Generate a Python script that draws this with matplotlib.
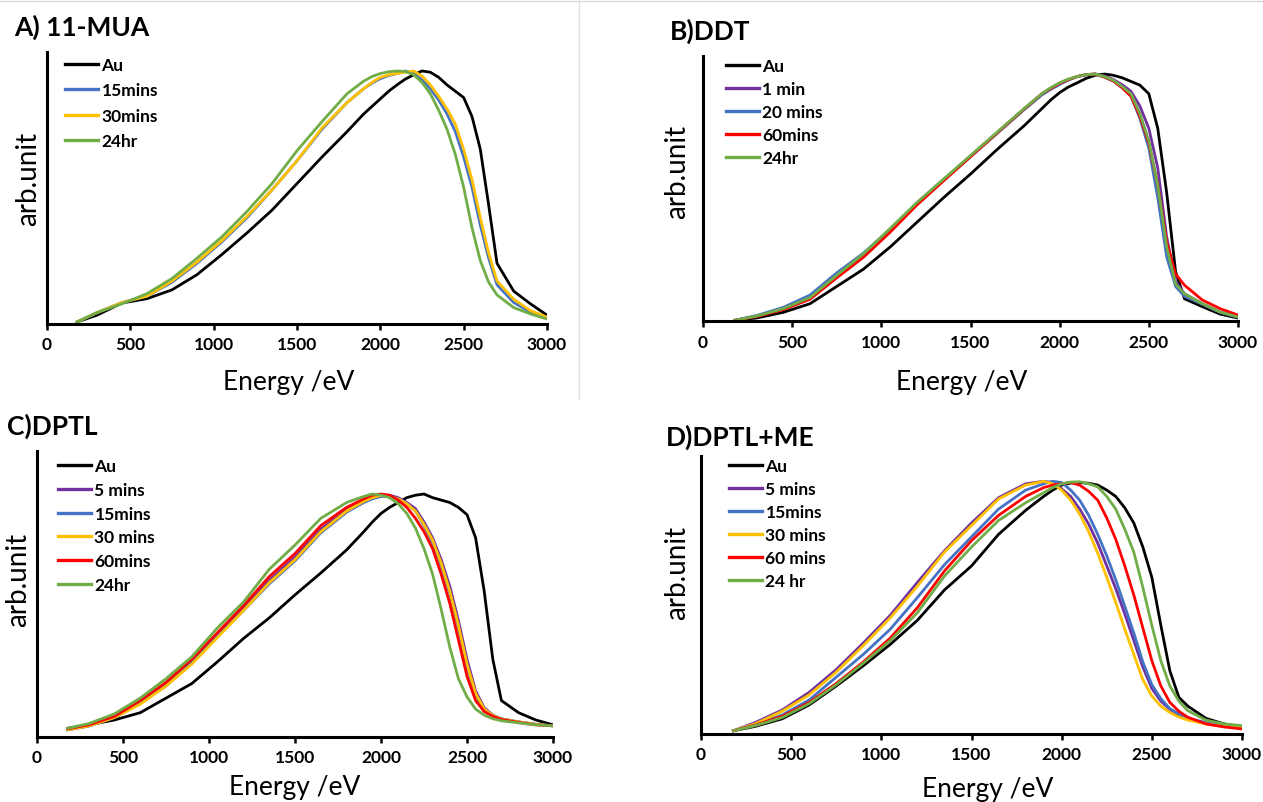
import matplotlib
matplotlib.use("Agg")
import matplotlib.pyplot as plt

# energy grid (eV) shared by every curve
ENERGY = [180, 300, 450, 600, 750, 900, 1050, 1200, 1350, 1500, 1650, 1800, 1900, 1950, 2000, 2050,
          2100, 2150, 2200, 2250, 2300, 2350, 2400, 2450, 2500, 2550, 2600, 2650, 2700, 2800, 2900, 3000]

# A) 11-MUA
A_AU = [0.008, 0.035, 0.083, 0.10, 0.135, 0.195, 0.275, 0.36, 0.45, 0.555, 0.66, 0.76, 0.83, 0.86, 0.89, 0.92,
        0.945, 0.968, 0.985, 1.0, 0.995, 0.975, 0.945, 0.92, 0.895, 0.82, 0.69, 0.47, 0.24, 0.13, 0.08, 0.035]
A_15 = [0.008, 0.045, 0.085, 0.11, 0.165, 0.24, 0.325, 0.42, 0.53, 0.645, 0.77, 0.875, 0.93, 0.952, 0.97, 0.982,
        0.99, 1.0, 0.99, 0.965, 0.93, 0.885, 0.83, 0.76, 0.66, 0.54, 0.39, 0.26, 0.155, 0.085, 0.048, 0.025]
A_30 = [0.008, 0.045, 0.085, 0.11, 0.17, 0.245, 0.33, 0.425, 0.53, 0.645, 0.775, 0.875, 0.93, 0.955, 0.975, 0.985,
        0.99, 0.995, 1.0, 0.98, 0.945, 0.90, 0.85, 0.79, 0.69, 0.57, 0.42, 0.28, 0.17, 0.098, 0.053, 0.027]
A_24 = [0.008, 0.045, 0.08, 0.12, 0.18, 0.26, 0.345, 0.445, 0.555, 0.685, 0.80, 0.91, 0.96, 0.978, 0.99, 0.997,
        1.0, 0.998, 0.985, 0.955, 0.91, 0.845, 0.77, 0.67, 0.54, 0.38, 0.25, 0.165, 0.115, 0.065, 0.04, 0.02]

# B) DDT
B_AU = [0.003, 0.012, 0.035, 0.07, 0.14, 0.21, 0.30, 0.40, 0.50, 0.595, 0.695, 0.79, 0.86, 0.895, 0.925, 0.948,
        0.965, 0.983, 0.995, 1.0, 0.995, 0.985, 0.97, 0.955, 0.92, 0.78, 0.52, 0.20, 0.09, 0.058, 0.028, 0.012]
B_1 = [0.003, 0.02, 0.05, 0.095, 0.183, 0.27, 0.372, 0.478, 0.573, 0.668, 0.763, 0.858, 0.918, 0.94, 0.96, 0.978,
       0.99, 0.997, 1.0, 0.992, 0.978, 0.957, 0.93, 0.87, 0.78, 0.62, 0.34, 0.16, 0.11, 0.07, 0.036, 0.016]
B_20 = [0.003, 0.022, 0.055, 0.105, 0.195, 0.275, 0.372, 0.478, 0.572, 0.665, 0.76, 0.855, 0.915, 0.938, 0.958, 0.976,
        0.99, 0.997, 1.0, 0.988, 0.972, 0.945, 0.91, 0.82, 0.70, 0.50, 0.26, 0.14, 0.10, 0.068, 0.035, 0.016]
B_60 = [0.003, 0.018, 0.046, 0.088, 0.175, 0.258, 0.36, 0.47, 0.568, 0.665, 0.762, 0.858, 0.92, 0.942, 0.962, 0.978,
        0.99, 0.998, 1.0, 0.988, 0.972, 0.945, 0.91, 0.83, 0.72, 0.55, 0.32, 0.19, 0.145, 0.085, 0.05, 0.024]
B_24 = [0.003, 0.02, 0.05, 0.095, 0.185, 0.272, 0.375, 0.48, 0.575, 0.67, 0.765, 0.86, 0.92, 0.945, 0.965, 0.98,
        0.99, 0.998, 1.0, 0.99, 0.975, 0.95, 0.92, 0.84, 0.73, 0.55, 0.30, 0.15, 0.11, 0.07, 0.036, 0.016]

# C) DPTL
C_AU = [0.036, 0.05, 0.07, 0.10, 0.16, 0.22, 0.31, 0.405, 0.49, 0.585, 0.675, 0.77, 0.845, 0.885, 0.92, 0.945,
        0.965, 0.985, 0.995, 1.0, 0.985, 0.975, 0.965, 0.945, 0.915, 0.82, 0.60, 0.32, 0.15, 0.10, 0.07, 0.05]
C_5 = [0.03, 0.045, 0.08, 0.14, 0.215, 0.31, 0.42, 0.53, 0.645, 0.74, 0.855, 0.935, 0.975, 0.99, 0.995, 0.995,
       0.985, 0.965, 0.94, 0.885, 0.82, 0.73, 0.62, 0.48, 0.32, 0.19, 0.12, 0.09, 0.075, 0.062, 0.052, 0.046]
C_15 = [0.03, 0.045, 0.08, 0.14, 0.21, 0.305, 0.415, 0.52, 0.63, 0.725, 0.84, 0.925, 0.965, 0.98, 0.99, 0.99,
        0.98, 0.96, 0.93, 0.87, 0.80, 0.705, 0.59, 0.45, 0.29, 0.175, 0.11, 0.088, 0.074, 0.062, 0.052, 0.046]
C_30 = [0.03, 0.045, 0.08, 0.135, 0.21, 0.30, 0.41, 0.52, 0.635, 0.73, 0.845, 0.93, 0.97, 0.985, 0.995, 0.99,
        0.98, 0.96, 0.93, 0.875, 0.81, 0.715, 0.60, 0.46, 0.30, 0.18, 0.115, 0.088, 0.074, 0.062, 0.052, 0.046]
C_60 = [0.034, 0.05, 0.085, 0.15, 0.225, 0.32, 0.43, 0.54, 0.66, 0.755, 0.87, 0.945, 0.98, 0.995, 1.0, 0.995,
        0.975, 0.945, 0.90, 0.845, 0.775, 0.67, 0.55, 0.40, 0.25, 0.15, 0.105, 0.085, 0.072, 0.06, 0.05, 0.046]
C_24 = [0.036, 0.055, 0.095, 0.16, 0.24, 0.33, 0.45, 0.555, 0.69, 0.79, 0.90, 0.965, 0.99, 1.0, 0.995, 0.985,
        0.96, 0.92, 0.86, 0.775, 0.67, 0.525, 0.37, 0.24, 0.165, 0.115, 0.09, 0.075, 0.067, 0.058, 0.05, 0.046]

# D) DPTL+ME
D_AU = [0.013, 0.03, 0.06, 0.115, 0.19, 0.27, 0.355, 0.45, 0.57, 0.665, 0.79, 0.885, 0.94, 0.965, 0.985, 0.993,
        0.995, 0.992, 0.985, 0.965, 0.94, 0.895, 0.835, 0.74, 0.62, 0.43, 0.25, 0.145, 0.11, 0.062, 0.04, 0.026]
D_5 = [0.013, 0.045, 0.095, 0.165, 0.255, 0.36, 0.47, 0.60, 0.725, 0.835, 0.935, 0.99, 1.0, 0.995, 0.97, 0.94,
       0.89, 0.83, 0.755, 0.665, 0.575, 0.475, 0.37, 0.265, 0.18, 0.13, 0.097, 0.075, 0.06, 0.042, 0.032, 0.026]
D_15 = [0.013, 0.038, 0.075, 0.135, 0.225, 0.315, 0.415, 0.54, 0.67, 0.78, 0.89, 0.965, 0.99, 1.0, 0.995, 0.965,
        0.925, 0.865, 0.79, 0.705, 0.61, 0.505, 0.40, 0.285, 0.195, 0.14, 0.10, 0.08, 0.063, 0.045, 0.033, 0.026]
D_30 = [0.013, 0.04, 0.09, 0.155, 0.245, 0.35, 0.46, 0.585, 0.72, 0.825, 0.93, 0.985, 1.0, 0.99, 0.965, 0.925,
        0.87, 0.80, 0.715, 0.62, 0.52, 0.415, 0.315, 0.215, 0.15, 0.11, 0.085, 0.067, 0.055, 0.04, 0.03, 0.025]
D_60 = [0.013, 0.035, 0.07, 0.125, 0.20, 0.285, 0.38, 0.50, 0.645, 0.765, 0.865, 0.94, 0.975, 0.985, 0.99, 0.995,
        0.985, 0.96, 0.925, 0.855, 0.77, 0.665, 0.55, 0.42, 0.29, 0.19, 0.125, 0.09, 0.066, 0.04, 0.028, 0.02]
D_24 = [0.013, 0.033, 0.065, 0.12, 0.195, 0.28, 0.37, 0.48, 0.625, 0.74, 0.845, 0.915, 0.955, 0.975, 0.99, 0.997,
        0.998, 0.99, 0.978, 0.94, 0.89, 0.81, 0.72, 0.58, 0.43, 0.29, 0.19, 0.13, 0.092, 0.055, 0.04, 0.033]

BLACK, PURPLE, BLUE, YELLOW, RED, GREEN = "#000000", "#7030A0", "#4472C4", "#FFC000", "#FF0000", "#70AD47"

W, H = 1263, 803
fig = plt.figure(figsize=(W / 100, H / 100), dpi=100)
plt.rcParams["font.family"] = ["Lato", "DejaVu Sans"]


def px(x, y):
    return x / W, 1 - y / H


def add_panel(box, ytop, series, title, title_xy, ylab_xy, xlab_xy, leg_xy, leg_space):
    left, top, right, bottom = box
    ax = fig.add_axes([left / W, 1 - bottom / H, (right - left) / W, (bottom - top) / H])
    for vals, color, label in series:
        ax.plot(ENERGY, vals, color=color, lw=2.0, label=label)
    ax.set_xlim(0, 3000)
    ax.set_ylim(0, ytop)
    ax.set_xticks(range(0, 3001, 500))
    ax.set_yticks([])
    for s in ("top", "right"):
        ax.spines[s].set_visible(False)
    for s in ("left", "bottom"):
        ax.spines[s].set_linewidth(2.2)
    ax.tick_params(axis="x", direction="out", length=4, width=1.8, pad=5)
    for t in ax.get_xticklabels():
        t.set_fontsize(12.5)
        t.set_fontweight("bold")
    leg = ax.legend(loc="upper left", bbox_to_anchor=px(*leg_xy), bbox_transform=fig.transFigure,
                    frameon=False, borderpad=0, borderaxespad=0, handlelength=1.9,
                    handletextpad=0.2, labelspacing=leg_space,
                    prop={"family": "Lato", "weight": "bold", "size": 12.5})
    for h in leg.get_lines():
        h.set_linewidth(2.4)
    fig.text(*px(*title_xy), title, fontsize=19, fontweight="bold", ha="left", va="center")
    fig.text(*px(*ylab_xy), "arb.unit", fontsize=20, rotation=90, ha="center", va="center")
    fig.text(*px(*xlab_xy), "Energy /eV", fontsize=19, ha="center", va="center")
    return ax


add_panel((47, 53, 547, 325), 1.075,
          [(A_AU, BLACK, "Au"), (A_15, BLUE, "15mins"), (A_30, YELLOW, "30mins"), (A_24, GREEN, "24hr")],
          "A) 11-MUA", (14, 27), (28, 179), (289, 383), (65, 58), 0.54)
add_panel((703, 57, 1238, 322), 1.073,
          [(B_AU, BLACK, "Au"), (B_1, PURPLE, "1 min"), (B_20, BLUE, "20 mins"), (B_60, RED, "60mins"),
           (B_24, GREEN, "24hr")],
          "B)DDT", (670, 31), (677, 172), (962, 383), (726, 59), 0.40)
add_panel((37, 452, 553, 738), 1.177,
          [(C_AU, BLACK, "Au"), (C_5, PURPLE, "5 mins"), (C_15, BLUE, "15mins"), (C_30, YELLOW, "30 mins"),
           (C_60, RED, "60mins"), (C_24, GREEN, "24hr")],
          "C)DPTL", (7, 426), (18, 580), (295, 788), (58, 459), 0.45)
add_panel((701, 457, 1242, 735), 1.10,
          [(D_AU, BLACK, "Au"), (D_5, PURPLE, "5 mins"), (D_15, BLUE, "15mins"), (D_30, YELLOW, "30 mins"),
           (D_60, RED, "60 mins"), (D_24, GREEN, "24 hr")],
          "D)DPTL+ME", (666, 437), (677, 573), (988, 790), (729, 459), 0.40)

# faint panel border lines from the source image
fig.add_artist(plt.Line2D([0, 1], [1 - 2 / H, 1 - 2 / H], color="#d9d9d9", lw=1, transform=fig.transFigure))
fig.add_artist(plt.Line2D([579 / W, 579 / W], [1, 1 - 400 / H], color="#e3e3e3", lw=1, transform=fig.transFigure))

fig.savefig("out.png", dpi=100, facecolor="white")
